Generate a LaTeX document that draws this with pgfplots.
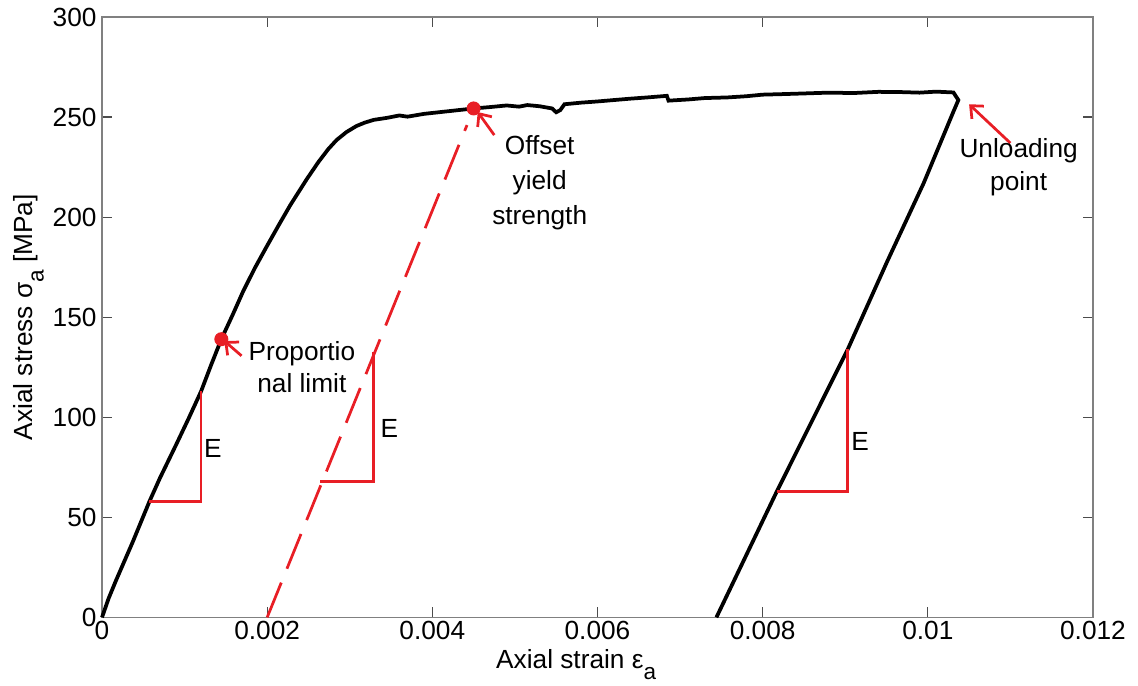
\documentclass[border=0pt]{standalone}
\usepackage{fontspec}
\setmainfont{Liberation Sans}
\usepackage{pgfplots}
\pgfplotsset{compat=1.18}
\usetikzlibrary{arrows.meta}

\definecolor{matred}{RGB}{232,30,37}
\definecolor{axgray}{RGB}{128,128,128}

\begin{document}
\begin{tikzpicture}
\begin{axis}[
  scale only axis,
  width=13.93cm, height=8.44cm,
  xmin=0, xmax=0.012,
  ymin=0, ymax=300,
  xtick={0,0.002,0.004,0.006,0.008,0.01,0.012},
  xticklabels={0,0.002,0.004,0.006,0.008,0.01,0.012},
  scaled x ticks=false,
  ytick={0,50,100,150,200,250,300},
  tick align=inside,
  major tick length=4pt,
  axis line style={axgray, line width=0.6pt},
  every tick/.style={black!70, line width=0.5pt},
  /pgf/number format/assume math mode=true,
  tick label style={font=\fontsize{10.5}{12.6}\selectfont},
  xticklabel style={inner sep=1.5pt},
  yticklabel style={inner sep=2pt},
  label style={font=\fontsize{10.5}{12.6}\selectfont},
  xlabel={Axial strain ε\raisebox{-0.8ex}{\fontsize{9}{10}\selectfont a}},
  ylabel={Axial stress σ\raisebox{-0.8ex}{\fontsize{9}{10}\selectfont a} [MPa]},
  xlabel style={yshift=1.5pt, xshift=-0.3cm},
  ylabel style={yshift=-2pt},
  clip=false,
]

% measured stress-strain curve: loading, plateau, unloading
\addplot[black, line width=1.5pt] coordinates {
 (0,0) (0.00008,9.5) (0.00017,18.5) (0.00027,28) (0.00037,37.5) (0.00047,47.5)
 (0.000575,58) (0.0007,69.5) (0.0009,86.5) (0.00105,99.5) (0.0012,113)
 (0.00132,126) (0.001445,139) (0.00158,151) (0.00171,163) (0.00185,174.5)
 (0.00199,185) (0.00214,196) (0.00228,206) (0.00248,219) (0.00262,227.5)
 (0.00274,234) (0.00284,238.5) (0.00296,242.5) (0.00308,245.5) (0.00318,247.2)
 (0.00329,248.6) (0.00345,249.6) (0.0036,250.8) (0.0037,250.2) (0.0039,251.6)
 (0.0041,252.5) (0.0043,253.4) (0.0045,254.3) (0.0047,255) (0.0049,255.8)
 (0.00505,255.2) (0.00515,256) (0.0053,255.4) (0.00545,254.3) (0.0055,252.4)
 (0.00555,253.5) (0.0056,256.4) (0.0058,257.2) (0.006,257.8) (0.00617,258.4)
 (0.0064,259.2) (0.0066,259.8) (0.00684,260.6) (0.00686,258.2) (0.0071,258.8)
 (0.0073,259.5) (0.00757,259.8) (0.0078,260.4) (0.008,261.2) (0.00827,261.5)
 (0.0085,261.8) (0.0088,262.2) (0.0091,262) (0.0094,262.6) (0.00966,262.5)
 (0.0099,262.2) (0.0101,262.7) (0.01031,262.3) (0.01037,258.5)
 (0.01031,252.7) (0.00995,217) (0.00951,178) (0.00903,133.9)
 (0.00817,62.8) (0.00744,0)
};

% 0.2% offset line
\addplot[matred, line width=1.1pt, dash pattern=on 15pt off 6pt] coordinates {
 (0.002,0) (0.00442,246)
};

% slope triangles
\addplot[matred, line width=1.1pt] coordinates {
 (0.000575,58) (0.0012,58) (0.0012,113)
};
\addplot[matred, line width=1.1pt] coordinates {
 (0.00264,67.8) (0.00329,67.8) (0.00329,132.6)
};
\addplot[matred, line width=1.1pt] coordinates {
 (0.00817,62.8) (0.00903,62.8) (0.00903,133.9)
};

% marked points
\addplot[only marks, mark=*, mark size=2.6pt, matred] coordinates {
 (0.001445,139) (0.0045,254.3)
};

\node at (axis cs:0.001344,84.2) {\fontsize{10.5}{12.6}\selectfont E};
\node at (axis cs:0.00348,94.4) {\fontsize{10.5}{12.6}\selectfont E};
\node at (axis cs:0.00918,87.9) {\fontsize{10.5}{12.6}\selectfont E};

\draw[matred, line width=1.1pt, -{Straight Barb[length=4pt,width=7pt]}]
  (axis cs:0.00169,130.7) -- (axis cs:0.00148,138.2);
\node[align=center, font=\fontsize{10.5}{13}\selectfont]
  at (axis cs:0.00242,125) {Proportio\\nal limit};

\draw[matred, line width=1.1pt, -{Straight Barb[length=4pt,width=7pt]}]
  (axis cs:0.00475,241) -- (axis cs:0.00455,252.5);
\node[align=center, font=\fontsize{10.5}{14}\selectfont]
  at (axis cs:0.0053,217) {Offset\\yield\\strength};

\draw[matred, line width=1.1pt, -{Straight Barb[length=4pt,width=7pt]}]
  (axis cs:0.0110,237) -- (axis cs:0.0105,256.4);
\node[align=center, font=\fontsize{10.5}{13}\selectfont]
  at (axis cs:0.0111,225) {Unloading\\point};

\end{axis}
\pgfresetboundingbox
\path[use as bounding box]
  ([xshift=-1.434cm,yshift=-0.96cm]current axis.south west)
  rectangle ([xshift=0.633cm,yshift=0.239cm]current axis.north east);
\end{tikzpicture}
\end{document}
